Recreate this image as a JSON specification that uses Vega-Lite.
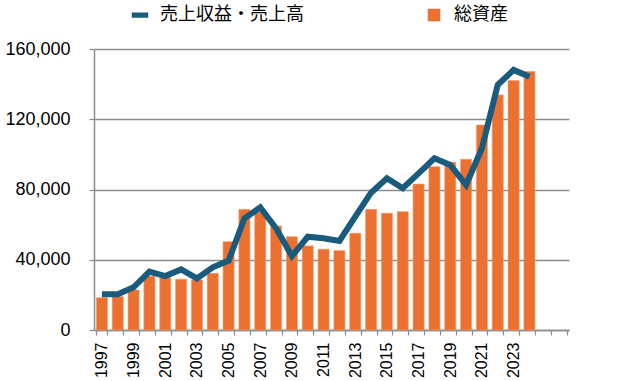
{
  "$schema": "https://vega.github.io/schema/vega-lite/v6.json",
  "width": 475,
  "height": 281,
  "autosize": "none",
  "padding": {"left": 94, "top": 49, "right": 57, "bottom": 51},
  "background": "white",
  "config": {
    "view": {"stroke": null},
    "font": "Liberation Sans",
    "axis": {"labelFont": "Liberation Sans", "labelColor": "#000", "domainColor": "#8c8c8c", "tickColor": "#8c8c8c", "gridColor": "#8c8c8c", "domainWidth": 1.5, "tickWidth": 1.2, "gridWidth": 1.5}
  },
  "data": {
    "values": [
      {"year": "1997", "asset": 18400, "sales": 20300},
      {"year": "1998", "asset": 19000, "sales": 20300},
      {"year": "1999", "asset": 22800, "sales": 24300},
      {"year": "2000", "asset": 30700, "sales": 33200},
      {"year": "2001", "asset": 29800, "sales": 30700},
      {"year": "2002", "asset": 28900, "sales": 34500},
      {"year": "2003", "asset": 28500, "sales": 29400},
      {"year": "2004", "asset": 32300, "sales": 35700},
      {"year": "2005", "asset": 50300, "sales": 39500},
      {"year": "2006", "asset": 68700, "sales": 63500},
      {"year": "2007", "asset": 67100, "sales": 69800},
      {"year": "2008", "asset": 59200, "sales": 57900},
      {"year": "2009", "asset": 53100, "sales": 42100},
      {"year": "2010", "asset": 47900, "sales": 53100},
      {"year": "2011", "asset": 46000, "sales": 52200},
      {"year": "2012", "asset": 45200, "sales": 50700},
      {"year": "2013", "asset": 55100, "sales": 64600},
      {"year": "2014", "asset": 68700, "sales": 78200},
      {"year": "2015", "asset": 66500, "sales": 86400},
      {"year": "2016", "asset": 67400, "sales": 80700},
      {"year": "2017", "asset": 83100, "sales": 89200},
      {"year": "2018", "asset": 93000, "sales": 97800},
      {"year": "2019", "asset": 95500, "sales": 94000},
      {"year": "2020", "asset": 97200, "sales": 82600},
      {"year": "2021", "asset": 116700, "sales": 103500},
      {"year": "2022", "asset": 133800, "sales": 139600},
      {"year": "2023", "asset": 142000, "sales": 148100},
      {"year": "2024", "asset": 147200, "sales": 144200}
    ]
  },
  "encoding": {
    "x": {
      "field": "year",
      "type": "ordinal",
      "scale": {"domain": ["1997","1998","1999","2000","2001","2002","2003","2004","2005","2006","2007","2008","2009","2010","2011","2012","2013","2014","2015","2016","2017","2018","2019","2020","2021","2022","2023","2024","2025","2026"], "paddingInner": 0.3, "paddingOuter": 0.15},
      "axis": {
        "title": null,
        "labelAngle": -90,
        "labelAlign": "right",
        "labelBaseline": "middle",
        "labelOverlap": false,
        "labelPadding": 7,
        "labelFontSize": 16,
        "tickSize": 5,
        "tickBand": "extent",
        "labelExpr": "(toNumber(datum.value) % 2 == 1 && toNumber(datum.value) < 2025) ? datum.value : ''"
      }
    }
  },
  "layer": [
    {
      "mark": {"type": "bar", "stroke": "#f59a66", "strokeWidth": 0.6},
      "encoding": {
        "y": {
          "field": "asset",
          "type": "quantitative",
          "scale": {"domain": [0, 160000], "nice": false},
          "axis": {"title": null, "values": [0, 40000, 80000, 120000, 160000], "format": ",d", "labelFontSize": 18, "tickSize": 5, "labelPadding": 19, "grid": true}
        },
        "color": {
          "datum": "総資産",
          "scale": {"domain": ["売上収益・売上高", "総資産"], "range": ["#195b7d", "#ec7131"]},
          "legend": {
            "title": null,
            "orient": "none",
            "legendX": 37,
            "legendY": -43,
            "direction": "horizontal",
            "labelFont": "Noto Sans CJK JP",
            "labelFontSize": 18,
            "labelColor": "#000",
            "labelOffset": 11,
            "columnPadding": 121,
            "symbolSize": 225,
            "encode": {
              "symbols": {
                "update": {
                  "shape": {"signal": "datum.value === '総資産' ? 'square' : 'M -1 -0.25 L 1 -0.25 L 1 0.25 L -1 0.25 Z'"},
                  "size": {"signal": "datum.value === '総資産' ? 121 : 225"},
                  "fill": {"signal": "datum.value === '総資産' ? '#ec7131' : '#195b7d'"},
                  "stroke": {"value": "transparent"}
                }
              }
            }
          }
        }
      }
    },
    {
      "mark": {"type": "line", "strokeWidth": 6, "strokeJoin": "miter", "strokeCap": "butt"},
      "encoding": {
        "y": {"field": "sales", "type": "quantitative"},
        "color": {
          "datum": "売上収益・売上高",
          "legend": {
            "title": null,
            "orient": "none",
            "legendX": 37,
            "legendY": -43,
            "direction": "horizontal",
            "labelFont": "Noto Sans CJK JP",
            "labelFontSize": 18,
            "labelColor": "#000",
            "labelOffset": 11,
            "columnPadding": 121,
            "symbolSize": 225,
            "encode": {
              "symbols": {
                "update": {
                  "shape": {"signal": "datum.value === '総資産' ? 'square' : 'M -1 -0.25 L 1 -0.25 L 1 0.25 L -1 0.25 Z'"},
                  "size": {"signal": "datum.value === '総資産' ? 121 : 225"},
                  "fill": {"signal": "datum.value === '総資産' ? '#ec7131' : '#195b7d'"},
                  "stroke": {"value": "transparent"}
                }
              }
            }
          }
        }
      }
    }
  ]
}
